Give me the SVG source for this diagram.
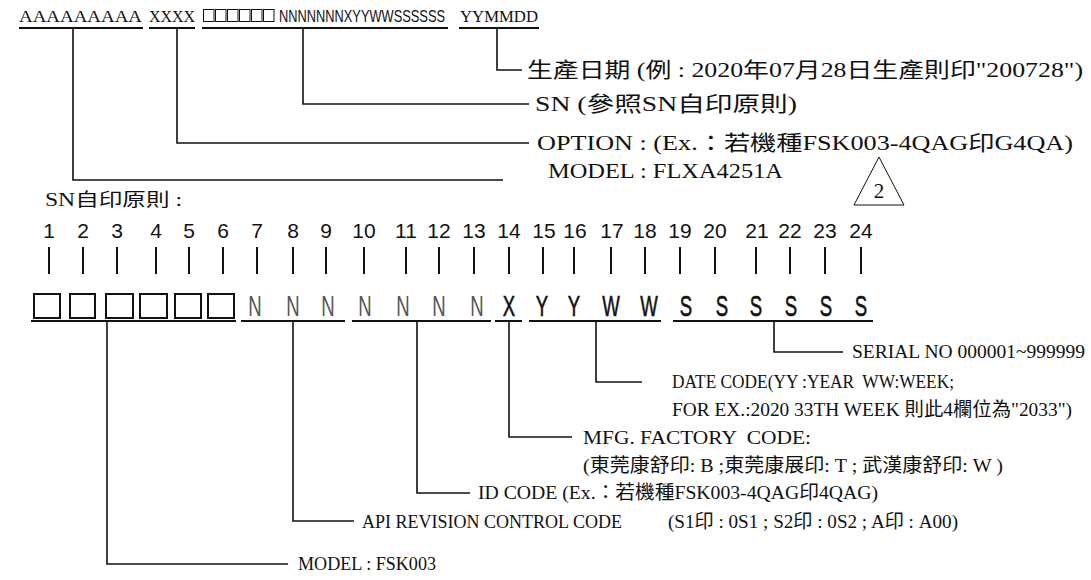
<svg xmlns="http://www.w3.org/2000/svg" width="1091" height="580" viewBox="0 0 1091 580">
<style>
.t{font-family:"Liberation Serif","Noto Sans CJK TC",serif;fill:#111}
.s{font-family:"Liberation Sans","Noto Sans CJK TC",sans-serif;fill:#111}
.ln{stroke:#111;stroke-width:1.6;fill:none}
.ul{stroke:#111;stroke-width:2;fill:none}
.tk{stroke:#111;stroke-width:2}
.bx{stroke:#111;stroke-width:2;fill:none}
.tb{stroke:#111;stroke-width:1;fill:none}
.g{font-family:"Liberation Sans",sans-serif;font-size:30px;fill:#111;stroke:#111;stroke-width:0.6;text-anchor:middle}
.n{font-family:"Liberation Sans",sans-serif;font-size:30px;fill:#555;text-anchor:middle}
.num{font-family:"Liberation Sans",sans-serif;font-size:21px;fill:#111;text-anchor:middle}
</style>
<rect width="1091" height="580" fill="#fff"/>

<g id="top-code">
<text class="t" x="19" y="22" font-size="17" textLength="123" lengthAdjust="spacingAndGlyphs">AAAAAAAAA</text>
<text class="t" x="149" y="22" font-size="17" textLength="46" lengthAdjust="spacingAndGlyphs">XXXX</text>
<rect class="tb" x="203.5" y="9.5" width="10.5" height="12"/>
<rect class="tb" x="215.5" y="9.5" width="10.5" height="12"/>
<rect class="tb" x="227.5" y="9.5" width="10.5" height="12"/>
<rect class="tb" x="239.5" y="9.5" width="10.5" height="12"/>
<rect class="tb" x="251.5" y="9.5" width="10.5" height="12"/>
<rect class="tb" x="263.5" y="9.5" width="10.5" height="12"/>
<text class="s" transform="translate(279,22) scale(1,1.25)" font-size="12.8" textLength="166" lengthAdjust="spacingAndGlyphs">NNNNNNNXYYWWSSSSSS</text>
<text class="t" x="460" y="22" font-size="17" textLength="78" lengthAdjust="spacingAndGlyphs">YYMMDD</text>
<line class="ul" x1="19" y1="28" x2="143" y2="28"/>
<line class="ul" x1="149" y1="28" x2="195" y2="28"/>
<line class="ul" x1="202" y1="28" x2="448" y2="28"/>
<line class="ul" x1="459" y1="28" x2="539" y2="28"/>
</g>

<g id="top-labels">
<text class="t" x="527" y="77" font-size="21" textLength="556" lengthAdjust="spacingAndGlyphs">生產日期 (例 : 2020年07月28日生產則印"200728")</text>
<text class="t" x="535" y="111" font-size="21" textLength="262" lengthAdjust="spacingAndGlyphs">SN (參照SN自印原則)</text>
<text class="t" x="537" y="150" font-size="21" textLength="536" lengthAdjust="spacingAndGlyphs">OPTION : (Ex.：若機種FSK003-4QAG印G4QA)</text>
<text class="t" x="548" y="178" font-size="21" textLength="235" lengthAdjust="spacingAndGlyphs">MODEL : FLXA4251A</text>
</g>

<g id="revision-mark">
<polygon points="879,157 854,205 904,205" fill="none" stroke="#111" stroke-width="1"/>
<text class="t" x="879" y="198" font-size="21" text-anchor="middle">2</text>
</g>

<g id="sn-title">
<text class="t" x="45" y="206" font-size="18" textLength="137" lengthAdjust="spacingAndGlyphs">SN自印原則 :</text>
</g>

<g id="positions">
<text class="num" x="49" y="238">1</text>
<text class="num" x="83" y="238">2</text>
<text class="num" x="117" y="238">3</text>
<text class="num" x="156" y="238">4</text>
<text class="num" x="189" y="238">5</text>
<text class="num" x="223" y="238">6</text>
<text class="num" x="257" y="238">7</text>
<text class="num" x="293" y="238">8</text>
<text class="num" x="326" y="238">9</text>
<text class="num" x="364" y="238">10</text>
<text class="num" x="406" y="238">11</text>
<text class="num" x="439" y="238">12</text>
<text class="num" x="474" y="238">13</text>
<text class="num" x="509" y="238">14</text>
<text class="num" x="544" y="238">15</text>
<text class="num" x="575" y="238">16</text>
<text class="num" x="612" y="238">17</text>
<text class="num" x="645" y="238">18</text>
<text class="num" x="680" y="238">19</text>
<text class="num" x="715" y="238">20</text>
<text class="num" x="757" y="238">21</text>
<text class="num" x="790" y="238">22</text>
<text class="num" x="825" y="238">23</text>
<text class="num" x="861" y="238">24</text>
</g>

<g id="ticks">
<line class="tk" x1="49" y1="247" x2="49" y2="274"/>
<line class="tk" x1="83" y1="247" x2="83" y2="274"/>
<line class="tk" x1="117" y1="247" x2="117" y2="274"/>
<line class="tk" x1="156" y1="247" x2="156" y2="274"/>
<line class="tk" x1="189" y1="247" x2="189" y2="274"/>
<line class="tk" x1="223" y1="247" x2="223" y2="274"/>
<line class="tk" x1="257" y1="247" x2="257" y2="274"/>
<line class="tk" x1="293" y1="247" x2="293" y2="274"/>
<line class="tk" x1="326" y1="247" x2="326" y2="274"/>
<line class="tk" x1="364" y1="247" x2="364" y2="274"/>
<line class="tk" x1="406" y1="247" x2="406" y2="274"/>
<line class="tk" x1="439" y1="247" x2="439" y2="274"/>
<line class="tk" x1="474" y1="247" x2="474" y2="274"/>
<line class="tk" x1="509" y1="247" x2="509" y2="274"/>
<line class="tk" x1="543" y1="247" x2="543" y2="274"/>
<line class="tk" x1="574" y1="247" x2="574" y2="274"/>
<line class="tk" x1="611" y1="247" x2="611" y2="274"/>
<line class="tk" x1="645" y1="247" x2="645" y2="274"/>
<line class="tk" x1="680" y1="247" x2="680" y2="274"/>
<line class="tk" x1="715" y1="247" x2="715" y2="274"/>
<line class="tk" x1="756" y1="247" x2="756" y2="274"/>
<line class="tk" x1="790" y1="247" x2="790" y2="274"/>
<line class="tk" x1="825" y1="247" x2="825" y2="274"/>
<line class="tk" x1="861" y1="247" x2="861" y2="274"/>
</g>

<g id="sn-glyphs">
<rect class="bx" x="34" y="294" width="26" height="24"/>
<rect class="bx" x="70" y="294" width="25" height="24"/>
<rect class="bx" x="106" y="294" width="27" height="24"/>
<rect class="bx" x="140" y="294" width="27" height="24"/>
<rect class="bx" x="175" y="294" width="26" height="24"/>
<rect class="bx" x="208" y="294" width="26" height="24"/>
<text class="n" transform="translate(255,316) scale(0.62,1)">N</text>
<text class="n" transform="translate(293,316) scale(0.62,1)">N</text>
<text class="n" transform="translate(328,316) scale(0.62,1)">N</text>
<text class="n" transform="translate(365,316) scale(0.62,1)">N</text>
<text class="n" transform="translate(403,316) scale(0.62,1)">N</text>
<text class="n" transform="translate(439,316) scale(0.62,1)">N</text>
<text class="n" transform="translate(477,316) scale(0.62,1)">N</text>
<text class="g" transform="translate(509,316) scale(0.62,1)">X</text>
<text class="g" transform="translate(542,316) scale(0.62,1)">Y</text>
<text class="g" transform="translate(574,316) scale(0.62,1)">Y</text>
<text class="g" transform="translate(611,316) scale(0.62,1)">W</text>
<text class="g" transform="translate(649,316) scale(0.62,1)">W</text>
<text class="g" transform="translate(686,316) scale(0.62,1)">S</text>
<text class="g" transform="translate(722,316) scale(0.62,1)">S</text>
<text class="g" transform="translate(756,316) scale(0.62,1)">S</text>
<text class="g" transform="translate(791,316) scale(0.62,1)">S</text>
<text class="g" transform="translate(826,316) scale(0.62,1)">S</text>
<text class="g" transform="translate(861,316) scale(0.62,1)">S</text>
<line class="ul" x1="31" y1="321" x2="236" y2="321"/>
<line class="ul" x1="241" y1="321" x2="345" y2="321"/>
<line class="ul" x1="352" y1="321" x2="491" y2="321"/>
<line class="ul" x1="495" y1="321" x2="522" y2="321"/>
<line class="ul" x1="529" y1="321" x2="661" y2="321"/>
<line class="ul" x1="673" y1="321" x2="873" y2="321"/>
</g>

<g id="bottom-labels">
<text class="t" x="852" y="358" font-size="19" textLength="233" lengthAdjust="spacingAndGlyphs">SERIAL NO 000001~999999</text>
<text class="t" x="672" y="388" font-size="19" textLength="282" lengthAdjust="spacingAndGlyphs" xml:space="preserve">DATE CODE(YY :YEAR  WW:WEEK;</text>
<text class="t" x="672" y="416" font-size="19" textLength="400" lengthAdjust="spacingAndGlyphs">FOR EX.:2020 33TH WEEK 則此4欄位為"2033")</text>
<text class="t" x="583" y="444" font-size="19" textLength="228" lengthAdjust="spacingAndGlyphs" xml:space="preserve">MFG. FACTORY  CODE:</text>
<text class="t" x="583" y="472" font-size="19" textLength="420" lengthAdjust="spacingAndGlyphs">(東莞康舒印: B ;東莞康展印: T ; 武漢康舒印: W )</text>
<text class="t" x="478" y="499" font-size="19" textLength="400" lengthAdjust="spacingAndGlyphs">ID CODE (Ex.：若機種FSK003-4QAG印4QAG)</text>
<text class="t" x="362" y="528" font-size="19" textLength="260" lengthAdjust="spacingAndGlyphs">API REVISION CONTROL CODE</text>
<text class="t" x="668" y="528" font-size="19" textLength="290" lengthAdjust="spacingAndGlyphs">(S1印 : 0S1 ; S2印 : 0S2 ; A印 : A00)</text>
<text class="t" x="298" y="570" font-size="19" textLength="138" lengthAdjust="spacingAndGlyphs">MODEL : FSK003</text>
</g>

<g id="connectors">
<polyline class="ln" points="73,28 73,180 503,180"/>
<polyline class="ln" points="177,28 177,143 529,143"/>
<polyline class="ln" points="303,28 303,104 529,104"/>
<polyline class="ln" points="497,28 497,70 522,70"/>
<polyline class="ln" points="107,321 107,564 288,564"/>
<polyline class="ln" points="293,321 293,521 354,521"/>
<polyline class="ln" points="417,321 417,493 470,493"/>
<polyline class="ln" points="509,321 509,437 572,437"/>
<polyline class="ln" points="596,321 596,382 642,382"/>
<polyline class="ln" points="774,321 774,352 843,352"/>
</g>
</svg>
